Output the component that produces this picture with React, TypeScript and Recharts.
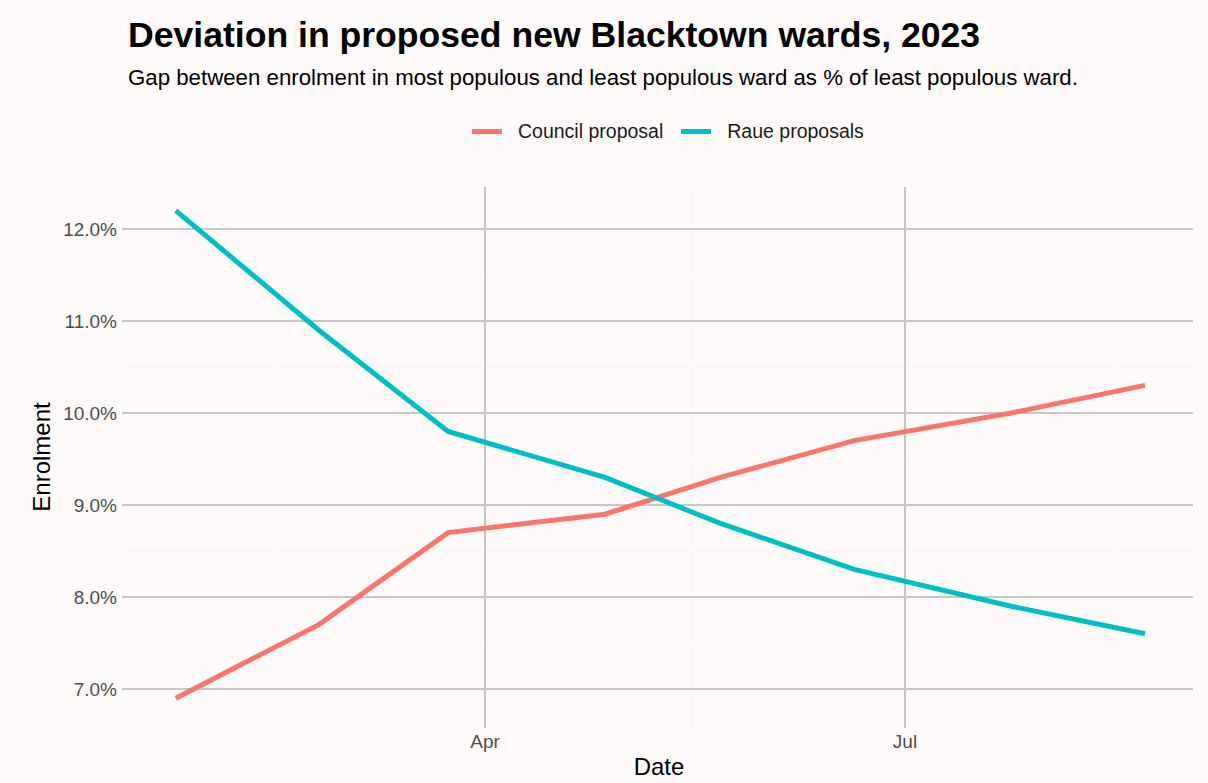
import React from "react";
import { LineChart, Line, XAxis, YAxis, ReferenceLine } from "recharts";

// dates of each enrolment snapshot
const dates = ["2023-01-24", "2023-02-24", "2023-03-24", "2023-04-27", "2023-05-22", "2023-06-20", "2023-07-24", "2023-08-22"];
const councilProposal = [6.9, 7.7, 8.7, 8.9, 9.3, 9.7, 10.0, 10.3];
const raueProposals = [12.2, 10.9, 9.8, 9.3, 8.8, 8.3, 7.9, 7.6];

const yTicks = [7, 8, 9, 10, 11, 12];
const yMinor = [7.5, 8.5, 9.5, 10.5, 11.5];
const xTickDates = ["2023-04-01", "2023-07-01"];
const xMinorDates = ["2023-02-15", "2023-05-16", "2023-08-16"];
const MONTHS = ["Jan", "Feb", "Mar", "Apr", "May", "Jun", "Jul", "Aug", "Sep", "Oct", "Nov", "Dec"];

const ts = (d: string) => Date.parse(d + "T00:00:00Z");
const DAY = 864e5;

const data = dates.map((d, i) => ({
  t: ts(d),
  council: councilProposal[i],
  raue: raueProposals[i],
}));

const RED = "#F8766D";
const CYAN = "#00BFC4";
const BG = "#fdfaf9";
const GRID = "#c6c6c6";
const MINOR = "#f8f4f3";
const FONT = '"Liberation Sans", Arial, Helvetica, sans-serif';

const xDomain = [ts("2023-04-01") - 78.65 * DAY, ts("2023-07-01") + 62.4 * DAY];

const App = () => {
  return (
    <div style={{ position: "absolute", left: 0, top: 0, width: 1208, height: 783, background: BG, fontFamily: FONT, overflow: "hidden" }}>
      <div style={{ position: "absolute", left: 128, top: 18, fontSize: 35.6, lineHeight: 1, fontWeight: "bold", color: "#000", whiteSpace: "nowrap" }}>
        Deviation in proposed new Blacktown wards, 2023
      </div>
      <div style={{ position: "absolute", left: 128, top: 67, fontSize: 22.25, lineHeight: 1, color: "#000", whiteSpace: "nowrap" }}>
        Gap between enrolment in most populous and least populous ward as % of least populous ward.
      </div>

      {/* legend */}
      <div style={{ position: "absolute", left: 472, top: 119, height: 24, display: "flex", alignItems: "center", fontSize: 19.5, color: "#1a1a1a", whiteSpace: "nowrap" }}>
        <span style={{ display: "inline-block", width: 30, height: 5, background: RED, marginRight: 16 }} />
        <span style={{ marginRight: 18 }}>Council proposal</span>
        <span style={{ display: "inline-block", width: 30, height: 5, background: CYAN, marginRight: 16 }} />
        <span>Raue proposals</span>
      </div>

      {/* axis titles */}
      <div style={{ position: "absolute", left: 659, top: 755, transform: "translateX(-50%)", fontSize: 24, lineHeight: 1, color: "#000" }}>
        Date
      </div>
      <div
        style={{
          position: "absolute",
          left: 42,
          top: 457,
          transform: "translate(-50%, -50%) rotate(-90deg)",
          fontSize: 24,
          lineHeight: 1,
          color: "#000",
          whiteSpace: "nowrap",
        }}
      >
        Enrolment
      </div>

      <div style={{ position: "absolute", left: 0, top: 0 }}>
        <LineChart width={1208} height={783} data={data} margin={{ top: 187, right: 15, bottom: 0, left: 0 }}>
          {yMinor.map((v) => (
            <ReferenceLine key={"ym" + v} y={v} stroke={MINOR} strokeWidth={1} />
          ))}
          {xMinorDates.map((d) => (
            <ReferenceLine key={"xm" + d} x={ts(d)} stroke={MINOR} strokeWidth={1} />
          ))}
          {yTicks.map((v) => (
            <ReferenceLine key={"y" + v} y={v} stroke={GRID} strokeWidth={2} />
          ))}
          {xTickDates.map((d) => (
            <ReferenceLine key={"x" + d} x={ts(d)} stroke={GRID} strokeWidth={2} />
          ))}
          <XAxis
            dataKey="t"
            type="number"
            scale="time"
            domain={xDomain}
            allowDataOverflow
            ticks={xTickDates.map(ts)}
            tickFormatter={(v: number) => MONTHS[new Date(v).getUTCMonth()]}
            axisLine={false}
            tickLine={false}
            tickSize={0}
            tickMargin={7}
            height={55}
            tick={{ fill: "#4d4d4d", fontSize: 19, fontFamily: FONT }}
          />
          <YAxis
            type="number"
            domain={[6.576, 12.457]}
            allowDataOverflow
            ticks={yTicks}
            tickFormatter={(v: number) => v.toFixed(1) + "%"}
            axisLine={false}
            tickLine={false}
            tickSize={0}
            tickMargin={5}
            width={122}
            tick={{ fill: "#4d4d4d", fontSize: 19, fontFamily: FONT }}
          />
          <Line type="linear" dataKey="council" stroke={RED} strokeWidth={5} dot={false} isAnimationActive={false} />
          <Line type="linear" dataKey="raue" stroke={CYAN} strokeWidth={5} dot={false} isAnimationActive={false} />
        </LineChart>
      </div>
    </div>
  );
};

export default App;
